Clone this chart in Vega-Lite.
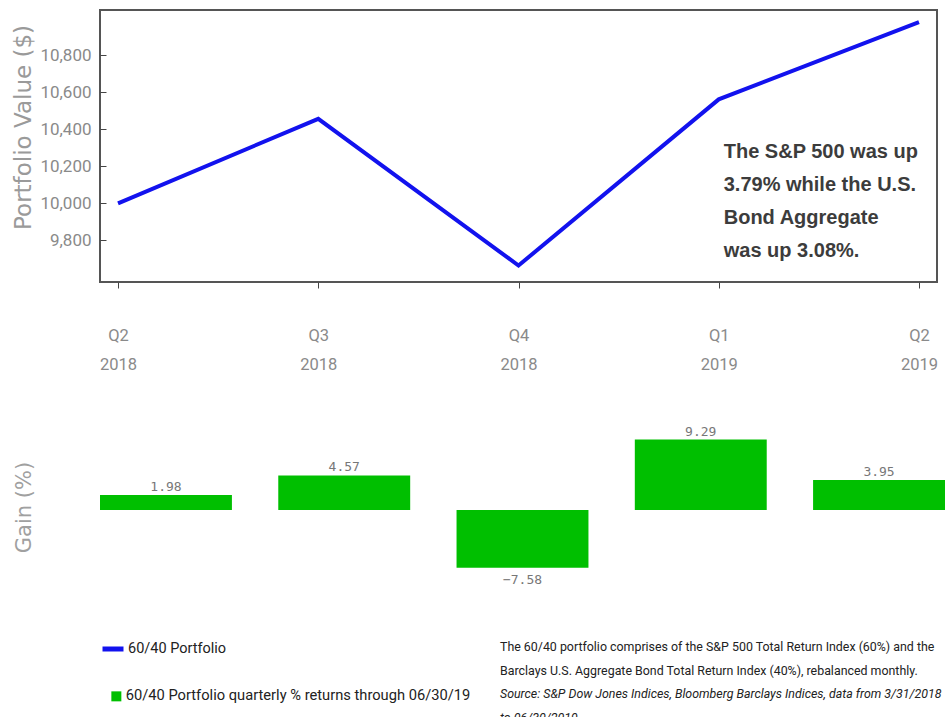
{
  "$schema": "https://vega.github.io/schema/vega-lite/v6.json",
  "padding": {"left": 10, "top": 9, "right": 0, "bottom": 0},
  "bounds": "flush",
  "spacing": 137,
  "datasets": {
    "portfolio": [
      {"q": "Q2 2018", "value": 10000},
      {"q": "Q3 2018", "value": 10457},
      {"q": "Q4 2018", "value": 9664},
      {"q": "Q1 2019", "value": 10562},
      {"q": "Q2 2019", "value": 10979}
    ],
    "returns": [
      {"q": "Q2 2018", "gain": 1.98},
      {"q": "Q3 2018", "gain": 4.57},
      {"q": "Q4 2018", "gain": -7.58},
      {"q": "Q1 2019", "gain": 9.29},
      {"q": "Q2 2019", "gain": 3.95}
    ]
  },
  "vconcat": [
    {
      "width": 837,
      "height": 272,
      "view": {"stroke": "#555555", "strokeWidth": 2},
      "layer": [
        {
          "data": {"name": "portfolio"},
          "mark": {"type": "line", "strokeWidth": 4},
          "encoding": {
            "x": {
              "field": "q", "type": "nominal", "sort": null,
              "scale": {"type": "point", "padding": 0.09},
              "axis": {
                "title": null, "domain": false, "grid": false, "labelAngle": 0,
                "labelExpr": "split(datum.label, ' ')",
                "labelFont": "Roboto", "labelFontSize": 16.5, "labelColor": "#8a8a8a", "labelLineHeight": 29,
                "labelPadding": 39, "tickSize": 6, "tickColor": "#444444", "tickWidth": 1
              }
            },
            "y": {
              "field": "value", "type": "quantitative",
              "scale": {"domain": [9575, 11045], "nice": false, "zero": false},
              "axis": {
                "title": "Portfolio Value ($)", "values": [9800, 10000, 10200, 10400, 10600, 10800],
                "format": ",.0f", "domain": false, "grid": false,
                "tickSize": -6, "tickColor": "#444444", "labelPadding": 15,
                "labelFont": "Roboto", "labelFontSize": 17, "labelColor": "#8a8a8a",
                "titleFont": "DejaVu Sans", "titleFontSize": 23, "titleFontWeight": "normal",
                "titleColor": "#9a9a9a", "titleX": -70, "titleY": 117, "titleBaseline": "alphabetic"
              }
            },
            "stroke": {
              "datum": "60/40 Portfolio",
              "scale": {"range": ["#1212ee"]},
              "legend": {
                "title": null, "orient": "none", "legendX": 0, "legendY": 626,
                "symbolType": "stroke", "symbolSize": 441, "symbolStrokeWidth": 5,
                "labelFont": "Roboto", "labelFontSize": 14.5, "labelColor": "#222222", "labelOffset": 2, "padding": 0
              }
            }
          }
        },
        {
          "data": {"values": [{}]},
          "mark": {
            "type": "text", "align": "left", "baseline": "top", "dx": 5,
            "lineHeight": 33, "font": "Liberation Sans, Arial, sans-serif", "fontSize": 20,
            "fontWeight": "bold", "color": "#3c3c3c",
            "text": ["The S&P 500 was up", "3.79% while the U.S.", "Bond Aggregate", "was up 3.08%."]
          },
          "encoding": {
            "x": {"datum": "Q1 2019", "type": "nominal"},
            "y": {"datum": 10330, "type": "quantitative"}
          }
        }
      ]
    },
    {
      "width": 845,
      "height": 167,
      "data": {"name": "returns"},
      "title": {
        "text": ["The 60/40 portfolio comprises of the S&P 500 Total Return Index (60%) and the", "Barclays U.S. Aggregate Bond Total Return Index (40%), rebalanced monthly."],
        "subtitle": ["Source: S&P Dow Jones Indices, Bloomberg Barclays Indices, data from 3/31/2018", "to 06/30/2019"],
        "orient": "bottom", "anchor": "start", "frame": "group", "dx": 400, "offset": 54,
        "font": "Roboto", "fontSize": 12.4, "fontWeight": "normal", "color": "#222222", "lineHeight": 24,
        "subtitleFont": "Roboto", "subtitleFontSize": 12.4, "subtitleFontStyle": "italic", "subtitleColor": "#222222",
        "subtitleLineHeight": 24, "subtitlePadding": 11
      },
      "encoding": {
        "x": {
          "field": "q", "type": "nominal", "sort": null,
          "scale": {"type": "band", "paddingInner": 0.26, "paddingOuter": 0},
          "axis": null
        },
        "y": {
          "field": "gain", "type": "quantitative",
          "scale": {"domain": [-10, 12], "nice": false},
          "axis": {
            "title": "Gain (%)", "labels": false, "ticks": false, "domain": false, "grid": false,
            "titleFont": "DejaVu Sans", "titleFontSize": 21, "titleFontWeight": "normal",
            "titleColor": "#a0a0a0", "titleX": -70, "titleY": 88, "titleBaseline": "alphabetic"
          }
        }
      },
      "layer": [
        {
          "mark": {"type": "bar"},
          "encoding": {
            "fill": {
              "datum": "60/40 Portfolio quarterly % returns through 06/30/19",
              "scale": {"range": ["#00bf00"]},
              "legend": {
                "title": null, "orient": "none", "legendX": 9, "legendY": 679,
                "symbolType": "square", "symbolSize": 100, "symbolStrokeWidth": 0,
                "labelFont": "Roboto", "labelFontSize": 14.7, "labelColor": "#222222", "labelOffset": 2, "labelLimit": 500, "padding": 0
              }
            }
          }
        },
        {
          "transform": [{"filter": "datum.gain >= 0"}],
          "mark": {"type": "text", "baseline": "alphabetic", "dy": -4, "font": "DejaVu Sans Mono", "fontSize": 13, "color": "#777777"},
          "encoding": {"text": {"field": "gain", "type": "quantitative", "format": ".2f"}}
        },
        {
          "transform": [{"filter": "datum.gain < 0"}],
          "mark": {"type": "text", "baseline": "top", "dy": 6, "font": "DejaVu Sans Mono", "fontSize": 13, "color": "#777777"},
          "encoding": {"text": {"field": "gain", "type": "quantitative", "format": ".2f"}}
        }
      ]
    }
  ],
  "config": {
    "view": {"stroke": null},
    "background": "white"
  }
}
